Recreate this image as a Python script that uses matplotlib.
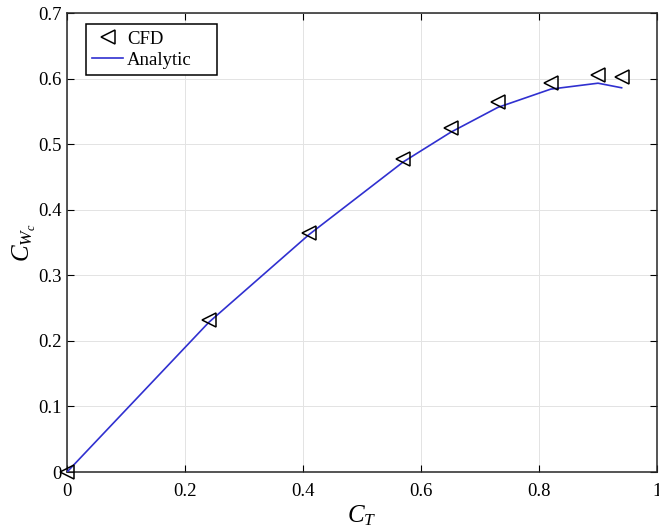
import matplotlib.pyplot as plt
import numpy as np

plt.rcParams['font.family'] = ['Liberation Serif', 'DejaVu Serif']
plt.rcParams['mathtext.fontset'] = 'custom'
plt.rcParams['mathtext.it'] = 'Liberation Serif:italic'
plt.rcParams['mathtext.rm'] = 'Liberation Serif'

# CFD data
ct_cfd = [0.0, 0.24, 0.41, 0.57, 0.65, 0.73, 0.82, 0.90, 0.94]
cw_cfd = [0.0, 0.232, 0.365, 0.478, 0.525, 0.565, 0.594, 0.606, 0.603]

# analytic curve
ct_an = [0.0, 0.24, 0.41, 0.57, 0.65, 0.73, 0.82, 0.90, 0.94]
cw_an = [0.0, 0.228, 0.362, 0.473, 0.518, 0.556, 0.584, 0.593, 0.586]

fig = plt.figure(figsize=(6.59, 5.30), dpi=100)
ax = fig.add_axes([0.1017, 0.1094, 0.8953, 0.866])

ax.plot(ct_cfd, cw_cfd, '<', mfc='none', mec='black', ms=9.5, mew=1.1,
        label='CFD', clip_on=False, zorder=4)
ax.plot(ct_an, cw_an, color='#3030d0', lw=1.2, label='Analytic', zorder=3)

ax.set_xlim(0, 1)
ax.set_ylim(0, 0.7)
ax.set_xticks([0, 0.2, 0.4, 0.6, 0.8, 1])
ax.set_xticklabels(['0', '0.2', '0.4', '0.6', '0.8', '1'])
ax.set_yticks(np.arange(0, 0.71, 0.1))
ax.set_yticklabels(['0', '0.1', '0.2', '0.3', '0.4', '0.5', '0.6', '0.7'])
ax.tick_params(direction='in', top=True, right=True, labelsize=13.5, length=5, width=0.8)
ax.tick_params(axis='x', pad=8)
ax.tick_params(axis='y', pad=4)
ax.grid(True, color='#e3e3e3', lw=0.7)
ax.set_axisbelow(True)
for s in ax.spines.values():
    s.set_linewidth(1.1)
    s.set_color('#262626')

ax.set_xlabel('$C_T$', fontsize=18, labelpad=2)
ax.set_ylabel('$C_{W_c}$', fontsize=18, labelpad=0)

leg = ax.legend(loc='upper left', bbox_to_anchor=(0.032, 0.75, 0.222, 0.226),
                mode='expand', fontsize=13.5, fancybox=False, edgecolor='black',
                framealpha=1, handlelength=1.65, borderaxespad=0, handletextpad=0.2,
                borderpad=0.35, labelspacing=0.2)
leg.get_frame().set_linewidth(1.1)

fig.savefig('out.png', dpi=100)
